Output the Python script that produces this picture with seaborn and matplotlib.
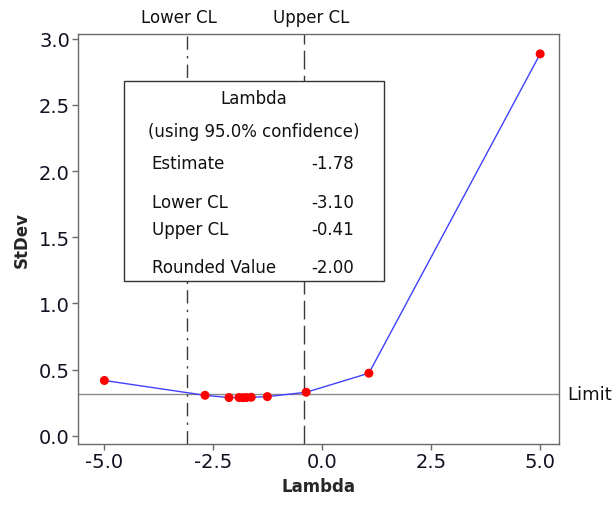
import matplotlib
matplotlib.use("Agg")
import matplotlib.pyplot as plt
import matplotlib.transforms as mtransforms
import seaborn as sns
import pandas as pd

# ---- data ----
lambdas = [-5.0, -2.69, -2.14, -1.91, -1.82, -1.74, -1.63, -1.26, -0.37, 1.07, 5.0]
stdevs = [0.417, 0.305, 0.288, 0.288, 0.287, 0.288, 0.290, 0.295, 0.328, 0.472, 2.886]
limit_value = 0.315
lower_cl = -3.10
upper_cl = -0.41
estimate = -1.78
rounded_value = -2.00
conf_label = "(using 95.0% confidence)"
x_ticks = [-5.0, -2.5, 0.0, 2.5, 5.0]
y_ticks = [0.0, 0.5, 1.0, 1.5, 2.0, 2.5, 3.0]

df = pd.DataFrame({"Lambda": lambdas, "StDev": stdevs})

sns.set_theme(style="white")
plt.rcParams["font.family"] = ["DejaVu Sans"]
plt.rcParams["axes.unicode_minus"] = False

fig = plt.figure(figsize=(6.16, 5.06), dpi=100)
ax = fig.add_axes([0.127, 0.1206, 0.781, 0.8104])

spine_col = "#6a6a6a"
for s in ax.spines.values():
    s.set_color(spine_col)
    s.set_linewidth(1.0)

# limit line
ax.axhline(limit_value, color="#8a8a8a", lw=1.0, zorder=1)

# CL lines
ax.axvline(lower_cl, color="#3a3a3a", lw=1.0, dashes=(9.6, 4.5, 1.7, 4.5), zorder=1)
ax.axvline(upper_cl, color="#3a3a3a", lw=1.0, dashes=(13.5, 4.5), zorder=1)

sns.lineplot(data=df, x="Lambda", y="StDev", color="#4040ff", lw=1.0,
             sort=False, ax=ax, zorder=2)
sns.scatterplot(data=df, x="Lambda", y="StDev", color="#ff0000", s=42,
                edgecolor="none", ax=ax, zorder=3)

ax.set_xlim(-5.60, 5.44)
ax.set_ylim(-0.063, 3.037)
ax.set_xticks(x_ticks)
ax.set_yticks(y_ticks)
ax.set_xticklabels([f"{v:.1f}" for v in x_ticks])
ax.set_yticklabels([f"{v:.1f}" for v in y_ticks])
ax.tick_params(axis="both", which="major", labelsize=14, length=4, width=1,
               color=spine_col, labelcolor="#111122", direction="out",
               bottom=True, left=True, top=False, right=False, pad=2)

ax.set_xlabel("Lambda", fontsize=12, fontweight="bold", labelpad=4)
ax.set_ylabel("StDev", fontsize=12, fontweight="bold", labelpad=6)

# top labels for CL lines
trans = mtransforms.blended_transform_factory(ax.transData, ax.transAxes)
ax.text(lower_cl - 0.18, 1.041, "Lower CL", transform=trans, ha="center",
        va="center", fontsize=12, color="#111111")
ax.text(upper_cl + 0.15, 1.041, "Upper CL", transform=trans, ha="center",
        va="center", fontsize=12, color="#111111")

# Limit label
trans2 = mtransforms.blended_transform_factory(ax.transAxes, ax.transData)
ax.text(1.016, limit_value, "Limit", transform=trans2, ha="left", va="center",
        fontsize=13, color="#111111", clip_on=False)

# info box (axes fraction coordinates)
def ax_x(px):
    return (px - 78.3) / (559.3 - 78.3)

def ax_y(py):
    return (445 - py) / (445 - 35)

box_l, box_r, box_t, box_b = ax_x(124), ax_x(384.3), ax_y(82.3), ax_y(281.7)
rect = plt.Rectangle((box_l, box_b), box_r - box_l, box_t - box_b,
                     transform=ax.transAxes, facecolor="white",
                     edgecolor="#333333", lw=1.0, zorder=5)
ax.add_patch(rect)
fs = 12
tc = "#111111"
ax.text((box_l + box_r) / 2, ax_y(99), "Lambda", transform=ax.transAxes,
        ha="center", va="center", fontsize=fs, color=tc, zorder=6)
ax.text((box_l + box_r) / 2, ax_y(131.7), conf_label, transform=ax.transAxes,
        ha="center", va="center", fontsize=fs, color=tc, zorder=6)
rows = [("Estimate", estimate, 164.3), ("Lower CL", lower_cl, 203.3),
        ("Upper CL", upper_cl, 230), ("Rounded Value", rounded_value, 268.3)]
for name, val, py in rows:
    ax.text(ax_x(151.7), ax_y(py), name, transform=ax.transAxes,
            ha="left", va="center", fontsize=fs, color=tc, zorder=6)
    ax.text(ax_x(354), ax_y(py), f"{val:.2f}", transform=ax.transAxes,
            ha="right", va="center", fontsize=fs, color=tc, zorder=6)

fig.savefig("out.png", dpi=100)
